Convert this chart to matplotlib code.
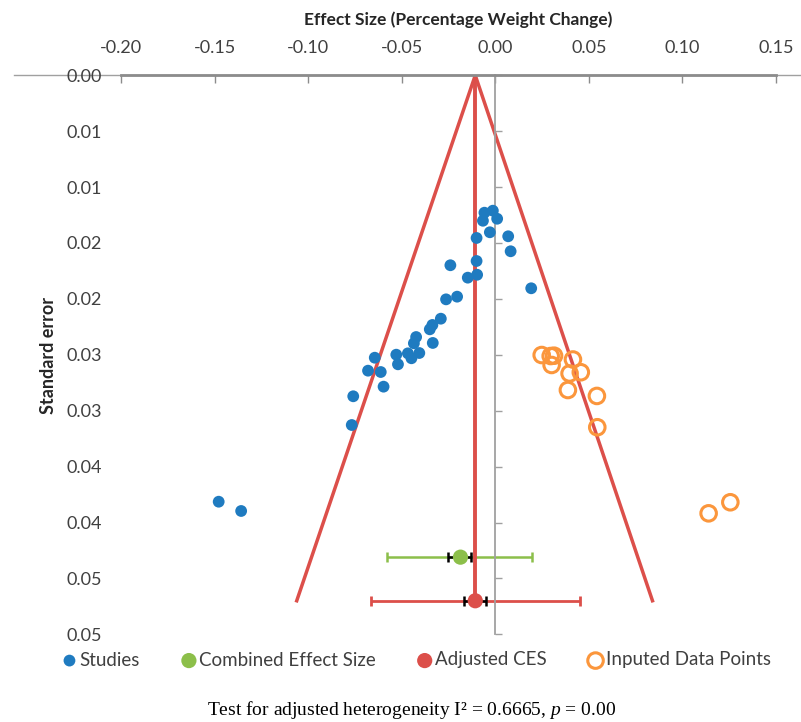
import matplotlib
matplotlib.use("Agg")
import matplotlib.pyplot as plt
import numpy as np

plt.rcParams['font.family'] = ['Lato', 'DejaVu Sans']
plt.rcParams['mathtext.fontset'] = 'custom'
plt.rcParams['mathtext.rm'] = 'Liberation Serif'
plt.rcParams['mathtext.it'] = 'Liberation Serif:italic'

# studies (effect size, standard error)
study_es = [-0.0058, -0.0013, -0.0066, 0.0010, -0.0029, -0.0100, 0.0069, 0.0082,
            -0.0240, -0.0100, -0.0147, -0.0097, 0.0192, -0.0263, -0.0204, -0.0291,
            -0.0336, -0.0350, -0.0423, -0.0435, -0.0334, -0.0529, -0.0644, -0.0467,
            -0.0406, -0.0448, -0.0520, -0.0680, -0.0612, -0.0597, -0.0759, -0.0767,
            -0.1478, -0.1358]
study_se = [0.01229, 0.01211, 0.01301, 0.01283, 0.01404, 0.01455, 0.01440, 0.01574,
            0.01699, 0.01661, 0.01810, 0.01784, 0.01905, 0.02004, 0.01980, 0.02177,
            0.02233, 0.02272, 0.02341, 0.02397, 0.02394, 0.02499, 0.02526, 0.02487,
            0.02484, 0.02531, 0.02585, 0.02642, 0.02654, 0.02785, 0.02871, 0.03128,
            0.03814, 0.03897]

# imputed points (trim and fill)
imp_es = [0.0248, 0.0296, 0.0314, 0.0301, 0.0415, 0.0397, 0.0457, 0.0388,
          0.0543, 0.0545, 0.1140, 0.1256]
imp_se = [0.02502, 0.02511, 0.02508, 0.02591, 0.02542, 0.02667, 0.02656, 0.02815,
          0.02868, 0.03148, 0.03918, 0.03819]

# combined effect size and adjusted CES
ces_x, ces_y = -0.0186, 0.0431
ces_ci = [-0.0576, 0.0196]
ces_inner = [-0.0253, -0.0130]
adj_x, adj_y = -0.0107, 0.0470
adj_ci = [-0.0663, 0.0450]
adj_inner = [-0.0165, -0.0049]

funnel_x = [-0.1061, -0.0107, 0.0840]
funnel_y = [0.0470, 0.0, 0.0470]

xticks = [-0.20, -0.15, -0.10, -0.05, 0.00, 0.05, 0.10, 0.15]
xlabels = ['-0.20', '-0.15', '-0.10', '-0.05', '0.00', '0.05', '0.10', '0.15']
yticks = [0.0, 0.005, 0.010, 0.015, 0.020, 0.025, 0.030, 0.035, 0.040, 0.045, 0.050]
ylabels = ['0.00', '0.01', '0.01', '0.02', '0.02', '0.03', '0.03', '0.04', '0.04', '0.05', '0.05']

blue = '#1f7bc0'
green = '#8cbf4a'
red = '#dc4f4a'
orange = '#fb963c'
gray = '#a0a0a0'

fig = plt.figure(figsize=(8.01, 7.22), dpi=100)
ax = fig.add_axes([121/801, 1-634.3/722, 655/801, 559/722])
ax.set_xlim(-0.20, 0.15)
ax.set_ylim(0.050, 0.0)

# funnel and adjusted centre line
ax.plot(funnel_x, funnel_y, color=red, lw=2.5, zorder=2)
ax.plot([adj_x, adj_x], [0, adj_y], color=red, lw=2.8, zorder=2)

# confidence bars
ax.errorbar(ces_x, ces_y, xerr=[[ces_x-ces_ci[0]], [ces_ci[1]-ces_x]], fmt='none',
            ecolor=green, elinewidth=1.8, capsize=3.5, capthick=1.8, zorder=1)
ax.errorbar(adj_x, adj_y, xerr=[[adj_x-adj_ci[0]], [adj_ci[1]-adj_x]], fmt='none',
            ecolor=red, elinewidth=2.0, capsize=3.5, capthick=2.0, zorder=1)
ax.errorbar(ces_x, ces_y, xerr=[[ces_x-ces_inner[0]], [ces_inner[1]-ces_x]], fmt='none',
            ecolor='black', elinewidth=1.8, capsize=3.5, capthick=1.8, zorder=3)
ax.errorbar(adj_x, adj_y, xerr=[[adj_x-adj_inner[0]], [adj_inner[1]-adj_x]], fmt='none',
            ecolor='black', elinewidth=1.8, capsize=3.5, capthick=1.8, zorder=3)

h1 = ax.scatter(study_es, study_se, s=72, color=blue, edgecolors='none', zorder=4, label='Studies')
h2 = ax.scatter([ces_x], [ces_y], s=120, color=green, edgecolors='none', zorder=4,
                label='Combined Effect Size')
h3 = ax.scatter([adj_x], [adj_y], s=120, color=red, edgecolors='none', zorder=4, label='Adjusted CES')
h4 = ax.scatter(imp_es, imp_se, s=125, facecolors='none', edgecolors=orange, linewidths=2.2,
                zorder=4, label='Inputed Data Points')

# axes styling
for s in ['right', 'bottom']:
    ax.spines[s].set_visible(False)
ax.spines['top'].set_color('#8c8c8c')
ax.spines['top'].set_linewidth(2)
ax.spines['left'].set_position(('data', 0))
ax.spines['left'].set_color(gray)
ax.spines['left'].set_linewidth(1.3)
ax.axhline(0, xmin=-0.163, xmax=1.04, color=gray, lw=1, clip_on=False, zorder=0)

ax.xaxis.tick_top()
ax.set_xticks(xticks, labels=xlabels)
ax.tick_params(axis='x', direction='in', length=6, width=1, color='#8c8c8c', pad=14,
               labelsize=13, labelcolor='#404040')
ax.set_yticks(yticks)
ax.tick_params(axis='y', direction='in', length=5, width=1, color=gray, labelleft=False)

sec = ax.secondary_yaxis(0.0)
sec.spines['left'].set_visible(False)
sec.set_yticks(yticks, labels=ylabels)
sec.tick_params(axis='y', length=0, pad=14, labelsize=13, labelcolor='#404040')

fig.text(458/801, 1-20/722, 'Effect Size (Percentage Weight Change)', ha='center', va='center',
         fontsize=12.5, fontweight='bold', color='#262626')
fig.text(48/801, 1-355/722, 'Standard error', ha='center', va='center', rotation=90,
         fontsize=13, fontweight='bold', color='#262626')

fig.legend(handles=[h1, h2, h3, h4], loc='center', bbox_to_anchor=(415/801, 1-660/722),
           ncol=4, frameon=False, fontsize=13.5, handletextpad=0.0, columnspacing=2.05,
           handlelength=1.1, labelcolor='#404040')

fig.text(412/801, 1-710/722, r'Test for adjusted heterogeneity I² = 0.6665, $p$ = 0.00',
         ha='center', va='center', fontsize=14, family='Liberation Serif')

fig.savefig('out.png', dpi=100)
